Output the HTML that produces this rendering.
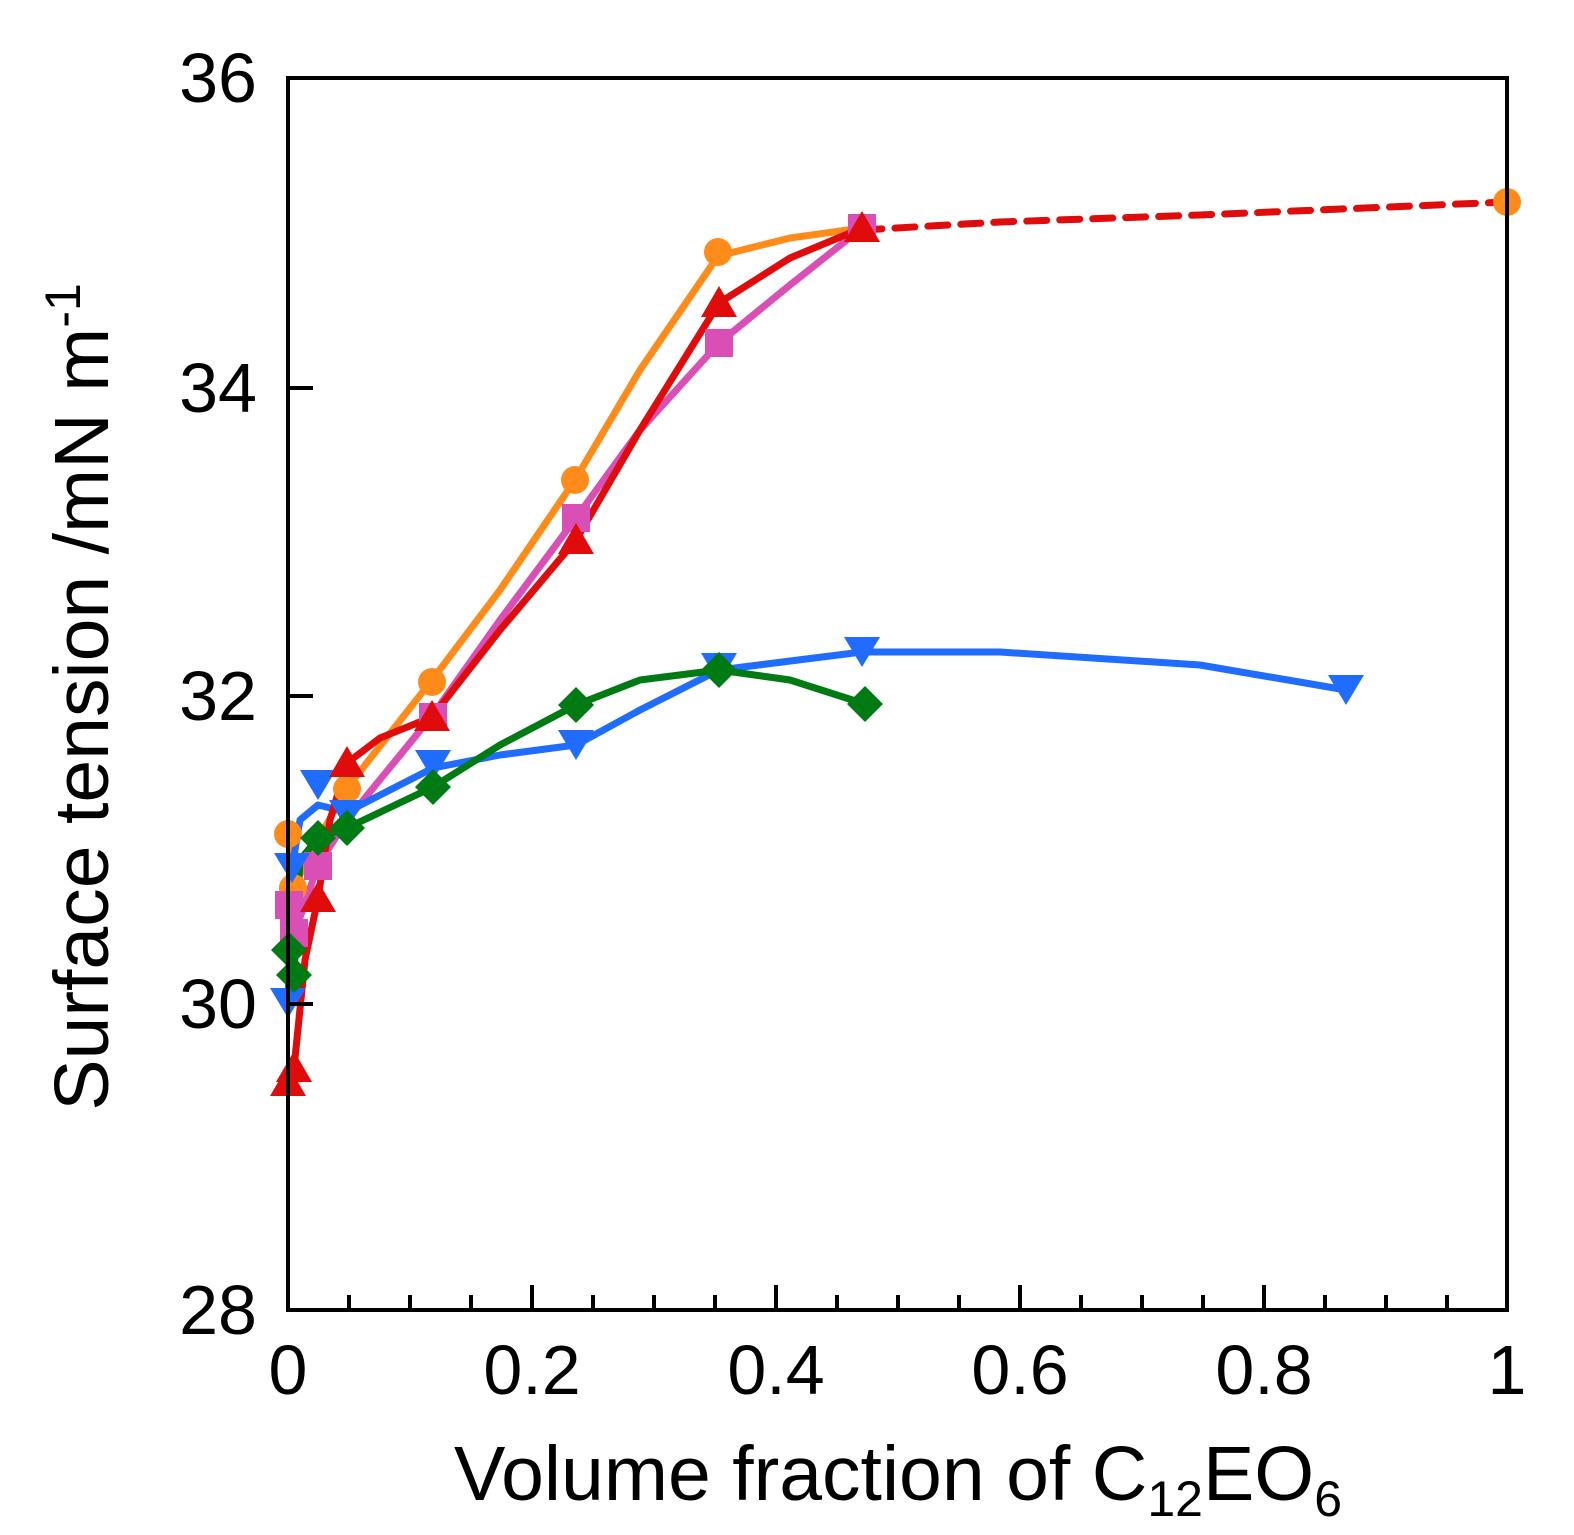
<!DOCTYPE html>
<html><head><style>html,body{margin:0;padding:0;background:#fff;overflow:hidden}svg{display:block}</style></head><body>
<svg width="1574" height="1535" xmlns="http://www.w3.org/2000/svg" font-family="Liberation Sans, sans-serif">
<defs>
<circle id="c" r="14" fill="#ff8c1a"/>
<rect id="s" x="-14" y="-14" width="28" height="28" fill="#d94fb5"/>
<polygon id="t" points="0,-17 18,14 -18,14" fill="#e00b0b"/>
<polygon id="d" points="0,15 18,-15 -18,-15" fill="#1f6cff"/>
<polygon id="g" points="0,-18 18,0 0,18 -18,0" fill="#007a12"/>
</defs>
<g fill="none" stroke-width="7" stroke-linejoin="round" stroke-linecap="round">
<polyline stroke="#e00b0b" stroke-dasharray="20,13" points="862,230 1000,222 1200,215 1507,202"/>
<polyline stroke="#ff8c1a" points="288,834 293,888 318,840 347,788 432,680 500,590 575,480 640,370 718,256 790,238 862,228"/>
<polyline stroke="#d94fb5" points="288,905 294,935 318,865 347,820 432,716 500,620 576,518 640,430 719,343 790,285 862,228"/>
<polyline stroke="#1f6cff" points="288,1003 292,868 300,820 318,805 347,812 433,768 500,755 576,745 640,710 719,670 862,652 1000,652 1200,665 1346,690"/>
<polyline stroke="#007a12" points="289,950 294,975 300,860 318,838 347,828 433,787 500,745 576,705 640,680 719,670 790,680 865,704"/>
<polyline stroke="#e00b0b" points="288,1082 294,1068 305,960 318,898 330,820 347,763 380,738 432,717 500,630 576,540 640,430 719,303 790,258 862,228"/>
</g>
<g>
<use href="#c" x="288" y="834"/><use href="#c" x="293" y="888"/><use href="#c" x="347" y="789"/><use href="#c" x="432" y="682"/><use href="#c" x="575" y="480"/><use href="#c" x="718" y="252"/><use href="#c" x="1507" y="202"/>
<use href="#s" x="289" y="905"/><use href="#s" x="294" y="933"/><use href="#s" x="318" y="866"/><use href="#s" x="433" y="717"/><use href="#s" x="576" y="518"/><use href="#s" x="719" y="343"/><use href="#s" x="862" y="228"/>
<use href="#d" x="288" y="1003"/><use href="#d" x="292" y="868"/><use href="#d" x="318" y="785"/><use href="#d" x="347" y="815"/><use href="#d" x="433" y="765"/><use href="#d" x="576" y="745"/><use href="#d" x="719" y="668"/><use href="#d" x="862" y="652"/><use href="#d" x="1346" y="690"/>
<use href="#g" x="289" y="950"/><use href="#g" x="294" y="975"/><use href="#g" x="318" y="838"/><use href="#g" x="347" y="828"/><use href="#g" x="433" y="787"/><use href="#g" x="576" y="705"/><use href="#g" x="719" y="670"/><use href="#g" x="865" y="704"/>
<use href="#t" x="288" y="1082"/><use href="#t" x="294" y="1068"/><use href="#t" x="318" y="898"/><use href="#t" x="347" y="763"/><use href="#t" x="432" y="717"/><use href="#t" x="576" y="540"/><use href="#t" x="719" y="303"/><use href="#t" x="862" y="228"/>
</g>
<rect x="288" y="78" width="1219" height="1232" fill="none" stroke="#000" stroke-width="4"/>
<g stroke="#000" stroke-width="4">
<line x1="288" y1="388" x2="313" y2="388"/><line x1="288" y1="696" x2="313" y2="696"/><line x1="288" y1="1004" x2="313" y2="1004"/>
<line x1="349" y1="1310" x2="349" y2="1295"/><line x1="410" y1="1310" x2="410" y2="1295"/><line x1="471" y1="1310" x2="471" y2="1295"/>
<line x1="532" y1="1310" x2="532" y2="1285"/><line x1="593" y1="1310" x2="593" y2="1295"/><line x1="654" y1="1310" x2="654" y2="1295"/><line x1="715" y1="1310" x2="715" y2="1295"/>
<line x1="776" y1="1310" x2="776" y2="1285"/><line x1="837" y1="1310" x2="837" y2="1295"/><line x1="898" y1="1310" x2="898" y2="1295"/><line x1="959" y1="1310" x2="959" y2="1295"/>
<line x1="1020" y1="1310" x2="1020" y2="1285"/><line x1="1081" y1="1310" x2="1081" y2="1295"/><line x1="1142" y1="1310" x2="1142" y2="1295"/><line x1="1203" y1="1310" x2="1203" y2="1295"/>
<line x1="1264" y1="1310" x2="1264" y2="1285"/><line x1="1325" y1="1310" x2="1325" y2="1295"/><line x1="1386" y1="1310" x2="1386" y2="1295"/><line x1="1447" y1="1310" x2="1447" y2="1295"/>
</g>
<g font-size="70" text-anchor="end">
<text x="257" y="102">36</text><text x="257" y="412">34</text><text x="257" y="720">32</text><text x="257" y="1028">30</text><text x="257" y="1334">28</text>
</g>
<g font-size="70" text-anchor="middle">
<text x="288" y="1394">0</text><text x="532" y="1394">0.2</text><text x="776" y="1394">0.4</text><text x="1020" y="1394">0.6</text><text x="1264" y="1394">0.8</text><text x="1507" y="1394">1</text>
</g>
<text x="898" y="1500" font-size="77" text-anchor="middle">Volume fraction of C<tspan font-size="50" dy="16">12</tspan><tspan dy="-16">EO</tspan><tspan font-size="50" dy="16">6</tspan></text>
<text transform="translate(108,697) rotate(-90)" font-size="77" text-anchor="middle">Surface tension /mN m<tspan font-size="50" dy="-28">-1</tspan></text>
</svg>
</body></html>
